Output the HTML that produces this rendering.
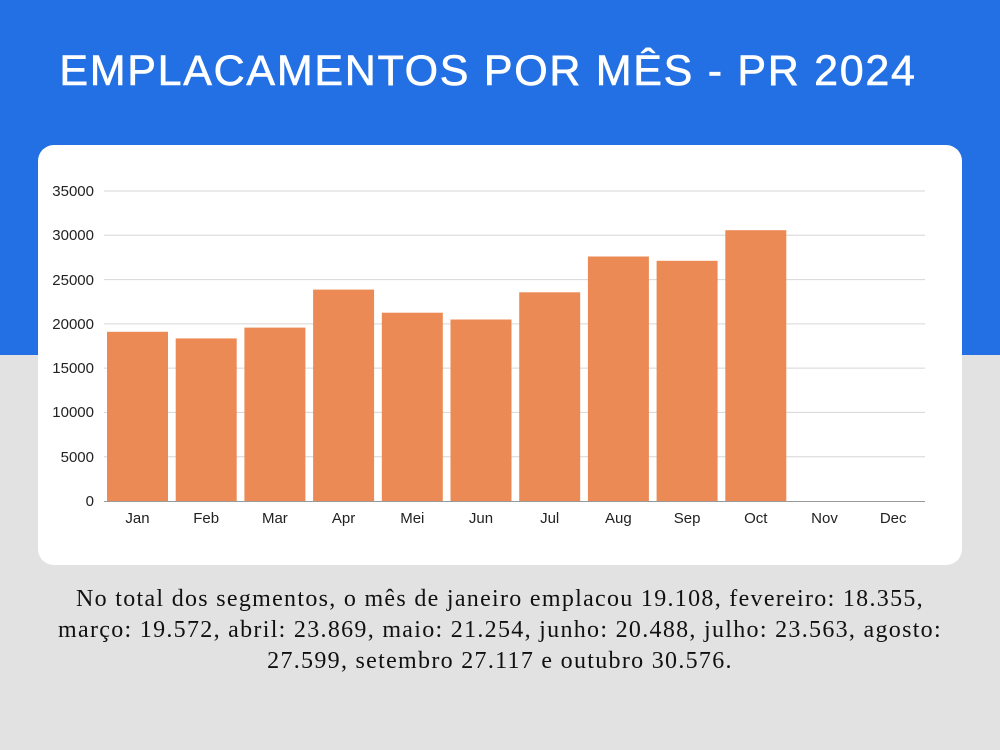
<!DOCTYPE html>
<html><head><meta charset="utf-8"><style>
html,body{margin:0;padding:0}
body{width:1000px;height:750px;position:relative;overflow:hidden;background:#e2e2e2;font-family:"Liberation Sans",sans-serif}
.top{position:absolute;left:0;top:0;width:1000px;height:355px;background:#2370e4}
h1{position:absolute;left:0;top:47px;width:976px;text-align:center;margin:0;color:#fff;font-size:43px;font-weight:normal;letter-spacing:1.7px;-webkit-text-stroke:0.6px #fff}
.card{position:absolute;left:38px;top:145px;width:924px;height:420px;background:#fff;border-radius:16px}
svg{position:absolute;left:0;top:0}
.txt{position:absolute;left:0;top:584px;width:1000px;text-align:center;font-family:"Liberation Serif",serif;font-size:24px;letter-spacing:1.3px;line-height:31px;color:#111}
</style></head><body>
<div class="top"></div>
<h1>EMPLACAMENTOS POR MÊS - PR 2024</h1>
<div class="card"></div>
<svg width="1000" height="750" font-family="Liberation Sans, sans-serif" font-size="15" fill="#222">
<g stroke="#d6d6d6" stroke-width="1">
<line x1="104" x2="925" y1="191" y2="191"/><line x1="104" x2="925" y1="235.3" y2="235.3"/>
<line x1="104" x2="925" y1="279.6" y2="279.6"/><line x1="104" x2="925" y1="323.9" y2="323.9"/>
<line x1="104" x2="925" y1="368.1" y2="368.1"/><line x1="104" x2="925" y1="412.4" y2="412.4"/>
<line x1="104" x2="925" y1="456.7" y2="456.7"/>
</g>
<line x1="104" x2="925" y1="501.5" y2="501.5" stroke="#999"/>
<g text-anchor="end">
<text x="94" y="196">35000</text><text x="94" y="240">30000</text><text x="94" y="285">25000</text>
<text x="94" y="329">20000</text><text x="94" y="373">15000</text><text x="94" y="417">10000</text>
<text x="94" y="462">5000</text><text x="94" y="506">0</text>
</g>
<g fill="#ec8a55">
<rect x="107" y="331.8" width="61" height="169.2"/>
<rect x="175.7" y="338.4" width="61" height="162.6"/>
<rect x="244.4" y="327.6" width="61" height="173.4"/>
<rect x="313.1" y="289.6" width="61" height="211.4"/>
<rect x="381.8" y="312.7" width="61" height="188.3"/>
<rect x="450.5" y="319.5" width="61" height="181.5"/>
<rect x="519.2" y="292.3" width="61" height="208.7"/>
<rect x="587.9" y="256.5" width="61" height="244.5"/>
<rect x="656.6" y="260.8" width="61" height="240.2"/>
<rect x="725.3" y="230.2" width="61" height="270.8"/>
</g>
<g text-anchor="middle">
<text x="137.5" y="523">Jan</text><text x="206.2" y="523">Feb</text><text x="274.9" y="523">Mar</text>
<text x="343.6" y="523">Apr</text><text x="412.3" y="523">Mei</text><text x="481" y="523">Jun</text>
<text x="549.7" y="523">Jul</text><text x="618.4" y="523">Aug</text><text x="687.1" y="523">Sep</text>
<text x="755.8" y="523">Oct</text><text x="824.5" y="523">Nov</text><text x="893.2" y="523">Dec</text>
</g>
</svg>
<div class="txt">No total dos segmentos, o mês de janeiro emplacou 19.108, fevereiro: 18.355,<br>março: 19.572, abril: 23.869, maio: 21.254, junho: 20.488, julho: 23.563, agosto:<br>27.599, setembro 27.117 e outubro 30.576.</div>
</body></html>
